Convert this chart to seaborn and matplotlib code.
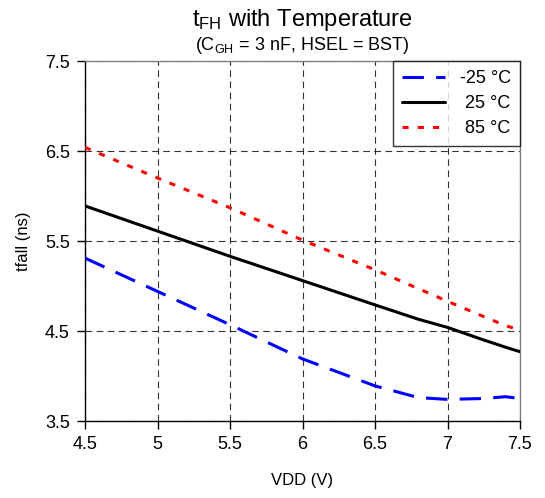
import pandas as pd
import matplotlib
matplotlib.use("Agg")
import matplotlib.pyplot as plt
import seaborn as sns

# values
vdd = [4.5, 5.0, 5.5, 6.0, 6.5, 6.8, 7.0, 7.25, 7.4, 7.5]
t_m25 = [5.31, 4.94, 4.57, 4.19, 3.89, 3.76, 3.74, 3.75, 3.77, 3.75]
t_25 = [5.89, 5.61, 5.33, 5.06, 4.79, 4.63, 4.54, 4.40, 4.32, 4.27]
t_85 = [6.54, 6.20, 5.87, 5.51, 5.18, 4.97, 4.83, 4.66, 4.56, 4.51]
labels = ["-25 \u00b0C", " 25 \u00b0C", " 85 \u00b0C"]

sns.set_style("white")
plt.rcParams["font.family"] = ["Liberation Sans", "DejaVu Sans"]
plt.rcParams["mathtext.fontset"] = "custom"
plt.rcParams["mathtext.rm"] = "Liberation Sans"
plt.rcParams["mathtext.it"] = "Liberation Sans"
for key in ["text.color", "axes.labelcolor", "xtick.color", "ytick.color"]:
    plt.rcParams[key] = "black"

data = pd.DataFrame({"vdd": vdd * 3,
                     "tfall": t_m25 + t_25 + t_85,
                     "temp": [labels[0]] * len(vdd) + [labels[1]] * len(vdd) + [labels[2]] * len(vdd)})

fig = plt.figure(figsize=(5.45, 4.98), dpi=100)
ax = fig.add_axes([85 / 545, 1 - 421 / 498, 435 / 545, 360 / 498])

styles = {labels[0]: ("#0000ff", (0, (7, 4))),
          labels[1]: ("black", "-"),
          labels[2]: ("#ff0000", (0, (2, 3)))}
for lab in labels:
    color, ls = styles[lab]
    sns.lineplot(data=data[data["temp"] == lab], x="vdd", y="tfall", ax=ax,
                 color=color, linestyle=ls, linewidth=2.2, label=lab, zorder=3)

ax.set_xlim(4.5, 7.5)
ax.set_ylim(3.5, 7.5)
ax.set_xticks([4.5, 5, 5.5, 6, 6.5, 7, 7.5])
ax.set_xticklabels(["4.5", "5", "5.5", "6", "6.5", "7", "7.5"])
ax.set_yticks([3.5, 4.5, 5.5, 6.5, 7.5])
ax.grid(True, color="black", linestyle=(0, (6, 4)), linewidth=0.8, alpha=0.8)
ax.tick_params(axis="both", direction="out", length=6, width=1, color="black",
               labelsize=13, bottom=True, left=True, pad=5)
for side in ["left", "bottom"]:
    ax.spines[side].set_color("black")
    ax.spines[side].set_linewidth(1)
for side in ["top", "right"]:
    ax.spines[side].set_color("#808080")
    ax.spines[side].set_linewidth(1)

ax.set_xlabel("VDD (V)", fontsize=12, labelpad=14)
ax.set_ylabel("tfall (ns)", fontsize=12, labelpad=10)

leg = ax.legend(loc="upper right", fontsize=13, frameon=True, fancybox=False,
                edgecolor="black", handlelength=2.4, handletextpad=0.8,
                borderaxespad=0, labelspacing=0.45, borderpad=0.5)
leg.get_frame().set_linewidth(1)

fig.text(302 / 545, 1 - 20 / 498, r"t$_{\mathrm{FH}}$ with Temperature", ha="center",
         va="center", fontsize=17)
fig.text(302 / 545, 1 - 46 / 498, r"(C$_{\mathrm{GH}}$ = 3 nF, HSEL = BST)", ha="center",
         va="center", fontsize=13)

fig.savefig("out.png", dpi=100)
